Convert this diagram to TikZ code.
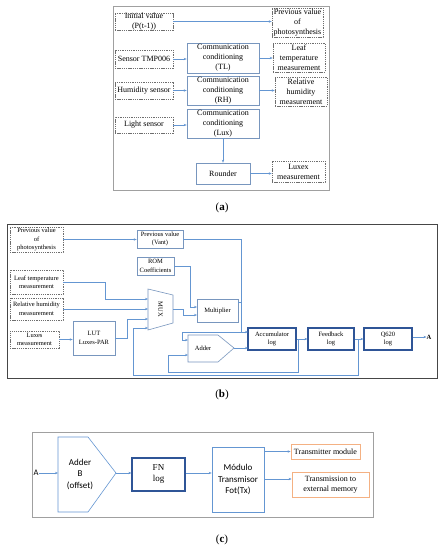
\documentclass[tikz,border=0pt]{standalone}
\usepackage{fontspec}
\setmainfont{Liberation Serif}
\newfontfamily\carl{Carlito}
\usetikzlibrary{arrows.meta}
\definecolor{lineblue}{RGB}{100,150,210}
\definecolor{boxblue}{RGB}{120,150,190}
\definecolor{darkblue}{RGB}{47,85,151}
\definecolor{dashgray}{RGB}{110,110,110}
\definecolor{framegray}{RGB}{160,160,160}
\definecolor{frameb}{RGB}{70,70,70}
\definecolor{orangeb}{RGB}{244,177,131}
\begin{document}
\begin{tikzpicture}[x=1pt,y=-1pt,
  afont/.style={font=\fontsize{8}{10}\selectfont},
  bfont/.style={font=\fontsize{6.5}{8.5}\selectfont},
  dbox/.style={draw=dashgray, dash pattern=on 1.3pt off 0.9pt, line width=0.5pt, align=center, inner sep=0pt},
  abox/.style={draw=boxblue, line width=0.6pt, align=center, inner sep=0pt, afont},
  bbox/.style={draw=boxblue, line width=0.6pt, align=center, inner sep=0pt, bfont},
  kbox/.style={draw=darkblue, line width=1.1pt, align=center, inner sep=0pt, bfont},
  obox/.style={draw=orangeb, line width=0.8pt, align=center, inner sep=0pt, font=\fontsize{8}{10.5}\selectfont},
  wire/.style={draw=lineblue, line width=0.5pt},
  conn/.style={draw=lineblue, line width=0.5pt, -{Stealth[length=3pt,width=2.4pt]}},
  sz/.style 2 args={minimum width=#1pt, minimum height=#2pt},
  lab/.style={font=\fontsize{11}{13}\selectfont}
]
\useasboundingbox[fill=white] (0,0) rectangle (444,550);

% ---------------- (a) ----------------
\draw[framegray, line width=0.8pt] (113,6) rectangle (329,190);
\node[dbox, afont, sz={58}{17}] (ini) at (144,21.5) {Initial value\\(P(t-1))};
\node[dbox, afont, sz={51}{29}] (prevph) at (297.5,22.5) {Previous value\\of\\photosynthesis};
\node[dbox, afont, sz={58}{18}] (tmp) at (144,59) {Sensor TMP006};
\node[abox, sz={72}{30}] (ctl) at (223,58) {Communication\\conditioning\\(TL)};
\node[dbox, afont, sz={52}{29}] (leaf) at (299,57.5) {Leaf\\temperature\\measurement};
\node[dbox, afont, sz={58}{17}] (hum) at (144,90.5) {Humidity sensor};
\node[abox, sz={72}{29}] (crh) at (223,90.5) {Communication\\conditioning\\(RH)};
\node[dbox, afont, sz={52}{29}] (rhm) at (301,91.5) {Relative\\humidity\\measurement};
\node[dbox, afont, sz={58}{16}] (light) at (144,125) {Light sensor};
\node[abox, sz={72}{29}] (clux) at (223,123.5) {Communication\\conditioning\\(Lux)};
\node[abox, sz={54}{21}] (rounder) at (223,173.5) {Rounder};
\node[dbox, afont, sz={53}{21}] (luxex) at (298.5,171.5) {Luxex\\measurement};

\draw[conn] (ini.east) -- (ini.east -| prevph.west);
\draw[conn] (tmp.east) -- (tmp.east -| ctl.west);
\draw[conn] (ctl.east) -- (ctl.east -| leaf.west);
\draw[conn] (hum.east) -- (hum.east -| crh.west);
\draw[conn] (crh.east) -- (crh.east -| rhm.west);
\draw[conn] (light.east) -- (light.east -| clux.west);
\draw[conn] (clux.south) -- (rounder.north);
\draw[conn] (rounder.east) -- (rounder.east -| luxex.west);
\node[lab] (la) at (222,208) {(\textbf{a})};

% ---------------- (b) ----------------
\draw[frameb, line width=1pt] (7,224) rectangle (437,378);
\node[dbox, bfont, sz={53}{25}] (bprev) at (36.5,239.5) {Previous value\\of\\photosynthesis};
\node[bbox, sz={46}{18}] (vant) at (160,239) {Previous value\\(Vant)};
\node[bbox, sz={37}{18}] (rom) at (155.5,266) {ROM\\Coefficients};
\node[dbox, bfont, sz={53}{24}] (bleaf) at (36.5,282) {Leaf temperature\\measurement};
\node[dbox, bfont, sz={53}{22}] (brh) at (36.5,309) {Relative humidity\\measurement};
\node[bbox, sz={41}{23}] (mult) at (217.5,310.5) {Multiplier};
\node[bbox, sz={42}{34}] (lut) at (94,338) {LUT\\Luxes-PAR};
\node[dbox, bfont, sz={49}{17}] (blux) at (34.5,339.5) {Luxes\\measurement};
\draw[boxblue, line width=0.6pt] (148,289) -- (173,295) -- (173,323) -- (148,330) -- cycle;
\node[bfont, rotate=-90] (mux) at (160.5,309.5) {MUX};
\draw[boxblue, line width=0.6pt] (188,335) -- (218,335) -- (234,348) -- (218,362) -- (188,362) -- cycle;
\node[bfont] (badd) at (203,348.5) {Adder};
\node[kbox, sz={48}{22}] (acc) at (272,339) {Accumulator\\log};
\node[kbox, sz={46}{22}] (fb) at (331,339) {Feedback\\log};
\node[kbox, sz={48}{22}] (q) at (388,339) {Q620\\log};
\node[font=\bfseries\fontsize{6.5}{8}\selectfont, inner sep=0pt] (bA) at (429,337) {A};

\coordinate (mi1) at (148,299);
\coordinate (mi2) at (148,309);
\coordinate (mi3) at (148,319);
\coordinate (mi4) at (148,328);
\coordinate (mo) at (173,309);
\coordinate (ai1) at (188,340);
\coordinate (ai2) at (188,355);
\coordinate (ao) at (234,348);

\draw[conn] (bprev.east) -- (bprev.east -| vant.west);
\draw[conn] (vant.east) -- (241,239) -- (241,332) -- (248,332);
\draw[wire] (238,302) -- (241,302);
\draw[conn] (241,332) -- (182,332) -- (182,340) -- (ai1);
\draw[conn] (rom.east) -- (190,266) -- (190,307) -- (197,307);
\draw[conn] (mo) -- (183,309) -- (183,315) -- (197,315);
\draw[conn] (bleaf.east) -- (105,282) -- (105,299) -- (mi1);
\draw[conn] (brh.east) -- (mi2);
\draw[conn] (lut.east) -- (127,338) -- (127,319) -- (mi3);
\draw[conn] (blux.east) -- (blux.east -| lut.west);
\draw[conn] (358,339) -- (358,375) -- (133,375) -- (133,328) -- (mi4);
\draw[conn] (298,339) -- (298,372) -- (168,372) -- (168,355) -- (ai2);
\draw[conn] (ao) -- (248,348);
\draw[conn] (acc.east) -- (fb.west);
\draw[conn] (fb.east) -- (q.west);
\draw[conn] (q.east |- bA) -- (bA.west);
\node[lab] (lb) at (222,395) {(\textbf{b})};

% ---------------- (c) ----------------
\draw[framegray, line width=0.8pt] (32,432) rectangle (373,517);
\node[font=\carl\fontsize{8.5}{10}\selectfont, inner sep=0pt] (cA) at (36,473) {A};
\draw[lineblue, line width=0.6pt] (58,437) -- (88,437) -- (116,473) -- (88,512) -- (58,512) -- cycle;
\node[font=\carl\fontsize{9}{11.5}\selectfont, align=center] (cadd) at (80,474) {Adder\\B\\(offset)};
\node[draw=darkblue, line width=1.2pt, sz={53}{33}, align=center, inner sep=0pt, font=\fontsize{9}{11}\selectfont] (fn) at (158.5,474.5) {FN\\log};
\node[draw=lineblue, line width=0.6pt, sz={52}{65}, align=center, inner sep=0pt, font=\carl\fontsize{9}{11.5}\selectfont] (mod) at (238,479.5) {Módulo\\Transmisor\\Fot(Tx)};
\node[obox, sz={69}{15}] (tm) at (325.5,451.5) {Transmitter module};
\node[obox, sz={77}{25}] (tem) at (330.5,484.5) {Transmission to\\external memory};
\coordinate (cin) at (58,473);
\coordinate (cout) at (116,473);
\draw[conn] (cA.east) -- (cin);
\draw[conn] (cout) -- (cout -| fn.west);
\draw[conn] (fn.east |- cout) -- (cout -| mod.west);
\draw[conn] (mod.east |- tm) -- (tm.west);
\draw[conn] (264,479) -- (tem.west |- 0,479);
\node[lab] (lc) at (222,540) {(\textbf{c})};
\end{tikzpicture}
\end{document}
